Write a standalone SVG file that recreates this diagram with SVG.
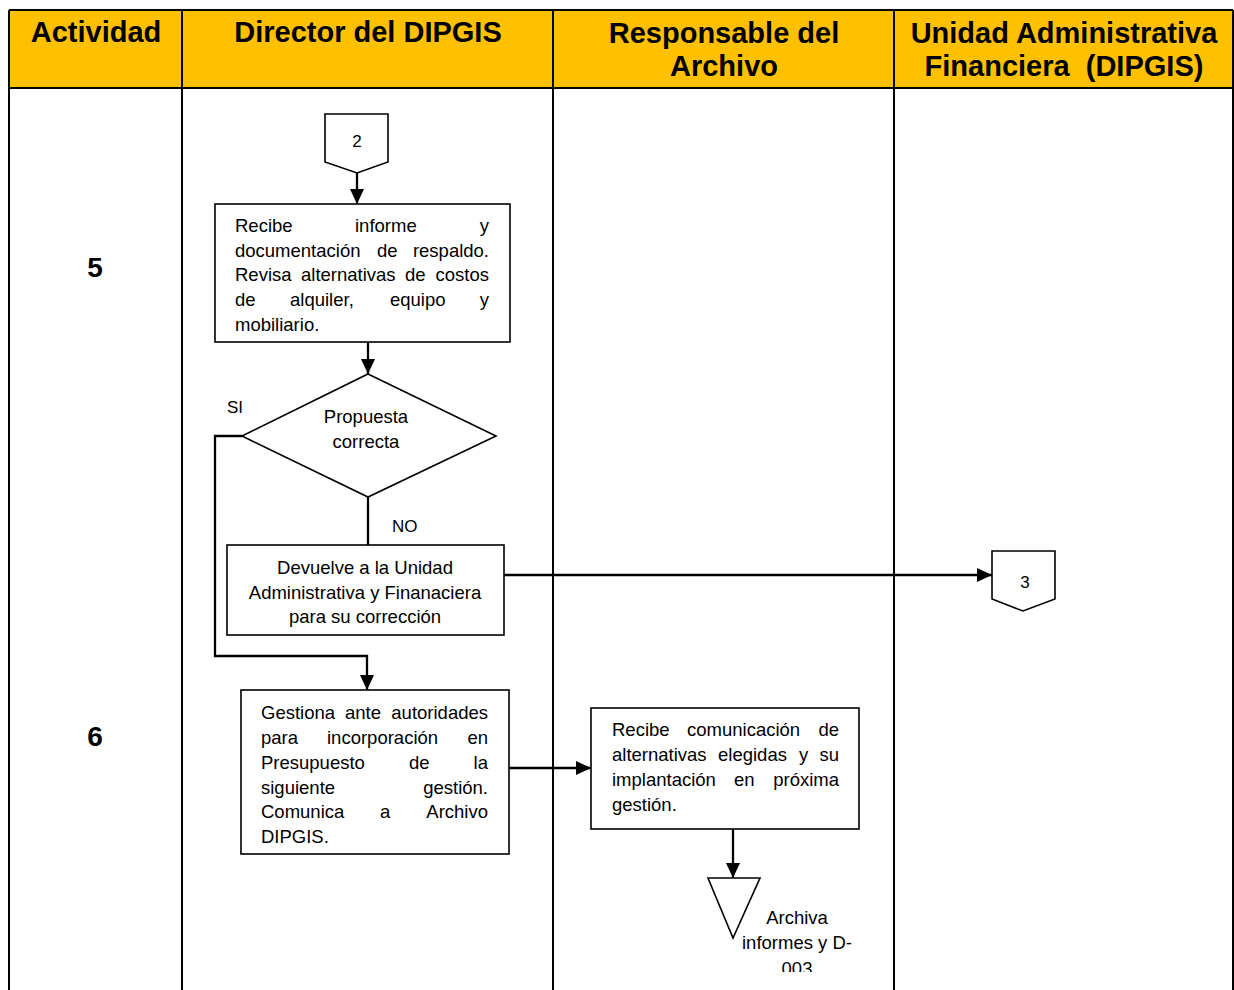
<svg xmlns="http://www.w3.org/2000/svg" width="1234" height="990" viewBox="0 0 1234 990">
  <style>
    .grid { stroke: #000; stroke-width: 2; fill: none; }
    .hdr { font-family: "Liberation Sans", Arial, sans-serif; font-weight: bold; font-size: 29px; fill: #000; text-anchor: middle; }
    .num { font-family: "Liberation Sans", Arial, sans-serif; font-weight: bold; font-size: 28px; fill: #000; text-anchor: middle; }
    .box { fill: #fff; stroke: #000; stroke-width: 1.6; }
    .t { font-family: "Liberation Sans", Arial, sans-serif; font-size: 18.5px; fill: #000; }
    .c { text-anchor: middle; }
    .e { text-anchor: end; }
    .lbl { font-family: "Liberation Sans", Arial, sans-serif; font-size: 17px; fill: #000; }
    .wire { stroke: #000; stroke-width: 2.3; fill: none; }
  </style>
  <defs>
    <marker id="arrow" viewBox="0 0 15 14" refX="15" refY="7" markerWidth="15" markerHeight="14" markerUnits="userSpaceOnUse" orient="auto">
      <path d="M0,0 L15,7 L0,14 Z" fill="#000"/>
    </marker>
    <clipPath id="pageBottom">
      <rect x="0" y="0" width="1234" height="972"/>
    </clipPath>
  </defs>

  <rect width="1234" height="990" fill="#fff"/>

  <!-- swimlane table -->
  <g id="table">
    <rect x="9" y="10" width="1224" height="78" fill="#FFC000"/>
    <line class="grid" x1="9" y1="10" x2="1233" y2="10"/>
    <line class="grid" x1="9" y1="88" x2="1233" y2="88"/>
    <line class="grid" x1="9" y1="10" x2="9" y2="990"/>
    <line class="grid" x1="182" y1="10" x2="182" y2="990"/>
    <line class="grid" x1="553" y1="10" x2="553" y2="990"/>
    <line class="grid" x1="894" y1="10" x2="894" y2="990"/>
    <line class="grid" x1="1233" y1="10" x2="1233" y2="990"/>
    <text class="hdr" x="96" y="42">Actividad</text>
    <text class="hdr" x="368" y="42">Director del DIPGIS</text>
    <text class="hdr" x="724" y="43">Responsable del</text>
    <text class="hdr" x="724" y="76">Archivo</text>
    <text class="hdr" x="1064" y="43">Unidad Administrativa</text>
    <text class="hdr" x="1064" y="76" xml:space="preserve">Financiera  (DIPGIS)</text>
    <text class="num" x="95" y="277">5</text>
    <text class="num" x="95" y="746">6</text>
  </g>

  <!-- connectors -->
  <g id="connectors">
    <line class="wire" x1="357" y1="173" x2="357" y2="204" marker-end="url(#arrow)"/>
    <line class="wire" x1="368" y1="342" x2="368" y2="374" marker-end="url(#arrow)"/>
    <polyline class="wire" points="242,436 215,436 215,656 367,656 367,690" marker-end="url(#arrow)"/>
    <line class="wire" x1="368" y1="497" x2="368" y2="545"/>
    <line class="wire" x1="504" y1="575" x2="992" y2="575" marker-end="url(#arrow)"/>
    <line class="wire" x1="509" y1="768" x2="591" y2="768" marker-end="url(#arrow)"/>
    <line class="wire" x1="733" y1="829" x2="733" y2="878" marker-end="url(#arrow)"/>
    <text class="lbl" x="227" y="413">SI</text>
    <text class="lbl" x="392" y="532">NO</text>
  </g>

  <!-- off-page connector 2 -->
  <g id="ref2">
    <polygon class="box" points="325,114 388,114 388,162 357,173 325,162"/>
    <text class="lbl c" x="357" y="147">2</text>
  </g>

  <!-- process: receive report -->
  <g id="recibeInforme">
    <rect class="box" x="215" y="204" width="295" height="138"/>
    <text class="t" x="235" y="231.5">Recibe</text>
    <text class="t" x="355" y="231.5">informe</text>
    <text class="t e" x="489" y="231.5">y</text>
    <text class="t" x="235" y="256.5">documentación</text>
    <text class="t" x="377" y="256.5">de</text>
    <text class="t e" x="489" y="256.5">respaldo.</text>
    <text class="t" x="235" y="280.5">Revisa</text>
    <text class="t" x="301" y="280.5">alternativas</text>
    <text class="t" x="405" y="280.5">de</text>
    <text class="t e" x="489" y="280.5">costos</text>
    <text class="t" x="235" y="305.5">de</text>
    <text class="t" x="290" y="305.5">alquiler,</text>
    <text class="t" x="390" y="305.5">equipo</text>
    <text class="t e" x="489" y="305.5">y</text>
    <text class="t" x="235" y="330.5">mobiliario.</text>
  </g>

  <!-- decision -->
  <g id="propuestaCorrecta">
    <polygon class="box" points="368,374 496,436 368,497 242,436"/>
    <text class="t c" x="366" y="422.5">Propuesta</text>
    <text class="t c" x="366" y="447.5">correcta</text>
  </g>

  <!-- process: return for correction -->
  <g id="devuelve">
    <rect class="box" x="227" y="545" width="277" height="90"/>
    <text class="t c" x="365" y="573.5">Devuelve a la Unidad</text>
    <text class="t c" x="365" y="598.5">Administrativa y Finanaciera</text>
    <text class="t c" x="365" y="622.5">para su corrección</text>
  </g>

  <!-- off-page connector 3 -->
  <g id="ref3">
    <polygon class="box" points="992,551 1055,551 1055,599 1023,611 992,599"/>
    <text class="lbl c" x="1025" y="588">3</text>
  </g>

  <!-- process: budget request -->
  <g id="gestiona">
    <rect class="box" x="241" y="690" width="268" height="164"/>
    <text class="t" x="261" y="718.5">Gestiona</text>
    <text class="t" x="345" y="718.5">ante</text>
    <text class="t e" x="488" y="718.5">autoridades</text>
    <text class="t" x="261" y="743.5">para</text>
    <text class="t" x="327" y="743.5">incorporación</text>
    <text class="t e" x="488" y="743.5">en</text>
    <text class="t" x="261" y="768.5">Presupuesto</text>
    <text class="t" x="409" y="768.5">de</text>
    <text class="t e" x="488" y="768.5">la</text>
    <text class="t" x="261" y="793.5">siguiente</text>
    <text class="t e" x="488" y="793.5">gestión.</text>
    <text class="t" x="261" y="817.5">Comunica</text>
    <text class="t" x="380" y="817.5">a</text>
    <text class="t e" x="488" y="817.5">Archivo</text>
    <text class="t" x="261" y="842.5">DIPGIS.</text>
  </g>

  <!-- process: archive receives communication -->
  <g id="recibeComunicacion">
    <rect class="box" x="591" y="708" width="268" height="121"/>
    <text class="t" x="612" y="735.5">Recibe</text>
    <text class="t" x="687" y="735.5">comunicación</text>
    <text class="t e" x="839" y="735.5">de</text>
    <text class="t" x="612" y="760.5">alternativas</text>
    <text class="t" x="718" y="760.5">elegidas</text>
    <text class="t" x="799" y="760.5">y</text>
    <text class="t e" x="839" y="760.5">su</text>
    <text class="t" x="612" y="785.5">implantación</text>
    <text class="t" x="734" y="785.5">en</text>
    <text class="t e" x="839" y="785.5">próxima</text>
    <text class="t" x="612" y="810.5">gestión.</text>
  </g>

  <!-- archive (triangle) -->
  <g id="archiva">
    <polygon class="box" points="708,878 760,878 733,938"/>
    <g clip-path="url(#pageBottom)">
      <text class="t c" x="797" y="923.5">Archiva</text>
      <text class="t c" x="797" y="948.5">informes y D-</text>
      <text class="t c" x="797" y="974.5">003</text>
    </g>
  </g>
</svg>
